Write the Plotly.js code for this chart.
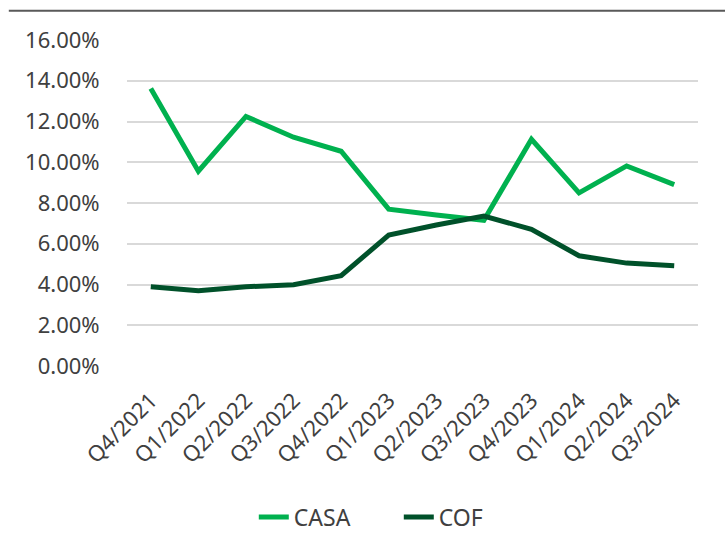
<!DOCTYPE html>
<html>
<head>
<meta charset="utf-8">
<script src="https://cdn.plot.ly/plotly-3.0.1.min.js"></script>
<style>html,body{margin:0;padding:0;background:#fff;}#chart{width:725px;height:551px;}</style>
</head>
<body>
<div id="chart"></div>
<script>
const quarters = ["Q4/2021","Q1/2022","Q2/2022","Q3/2022","Q4/2022","Q1/2023","Q2/2023","Q3/2023","Q4/2023","Q1/2024","Q2/2024","Q3/2024"];
const casa = [13.62, 9.56, 12.25, 11.23, 10.54, 7.70, 7.41, 7.15, 11.13, 8.50, 9.82, 8.90];
const cof  = [3.89, 3.69, 3.89, 3.99, 4.43, 6.43, 6.92, 7.36, 6.71, 5.41, 5.05, 4.92];
const yTicks = [0, 2, 4, 6, 8, 10, 12, 14, 16];

const font = "Noto Sans, sans-serif";
const traces = [
  {x: quarters, y: casa, name: "CASA", type: "scatter", mode: "lines",
   line: {color: "#00B14F", width: 5, shape: "linear"}},
  {x: quarters, y: cof, name: "COF", type: "scatter", mode: "lines",
   line: {color: "#00512A", width: 5, shape: "linear"}}
];
const layout = {
  width: 725, height: 551,
  margin: {l: 127, r: 27, t: 39.5, b: 184.5},
  paper_bgcolor: "#fff", plot_bgcolor: "#fff",
  font: {family: font, size: 22, color: "#404040"},
  xaxis: {type: "category", range: [-0.5, quarters.length - 0.5], tickangle: -45,
          showgrid: false, zeroline: false,
          showline: false, ticks: "outside", ticklen: 12, tickcolor: "rgba(0,0,0,0)",
          tickfont: {family: font, size: 22, color: "#404040"}},
  yaxis: {range: [0, 16], tickvals: yTicks, ticktext: yTicks.map(v => v.toFixed(2) + "%"),
          showgrid: true, gridcolor: "#D9D9D9", gridwidth: 2, zeroline: false,
          showline: false, ticks: "outside", ticklen: 22, tickcolor: "rgba(0,0,0,0)",
          tickfont: {family: font, size: 22, color: "#404040"}},
  showlegend: true,
  legend: {orientation: "h", x: 0.476, xanchor: "center", y: -0.463, yanchor: "middle",
           font: {family: font, size: 23, color: "#404040"}, entrywidth: 100},
  shapes: [{type: "line", xref: "paper", yref: "paper", x0: -0.207, x1: 1.05, y0: 1.09, y1: 1.09,
            line: {color: "#595959", width: 2}}]
};
Plotly.newPlot("chart", traces, layout, {displayModeBar: false, staticPlot: true});
</script>
</body>
</html>
